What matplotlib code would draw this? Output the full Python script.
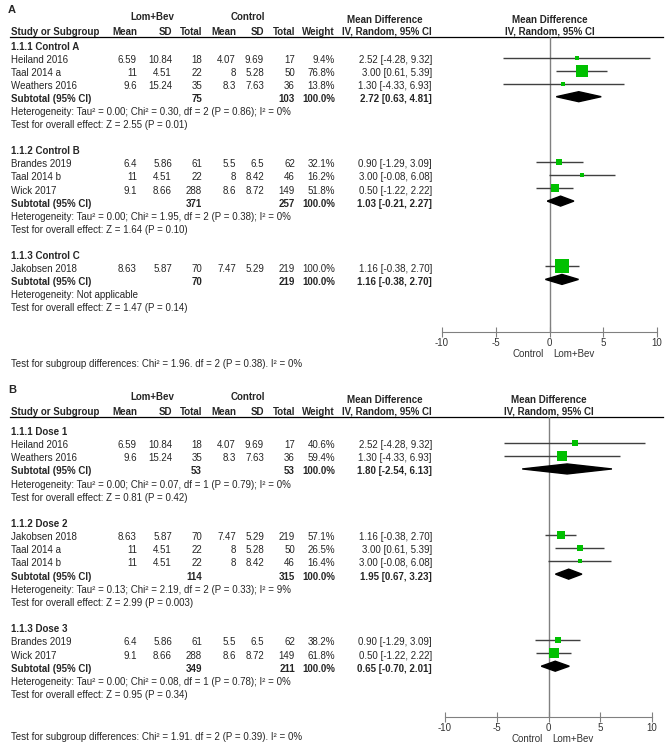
import matplotlib.pyplot as plt
from matplotlib.patches import Polygon

plt.rcParams['font.family'] = ['Liberation Sans', 'DejaVu Sans']

# study level data (same trials used in both panels)
studies = ["Heiland 2016", "Taal 2014 a", "Weathers 2016", "Brandes 2019",
           "Taal 2014 b", "Wick 2017", "Jakobsen 2018"]
lb_mean = ["6.59", "11", "9.6", "6.4", "11", "9.1", "8.63"]
lb_sd = ["10.84", "4.51", "15.24", "5.86", "4.51", "8.66", "5.87"]
lb_n = [18, 22, 35, 61, 22, 288, 70]
ct_mean = ["4.07", "8", "8.3", "5.5", "8", "8.6", "7.47"]
ct_sd = ["9.69", "5.28", "7.63", "6.5", "8.42", "8.72", "5.29"]
ct_n = [17, 50, 36, 62, 46, 149, 219]
md = [2.52, 3.00, 1.30, 0.90, 3.00, 0.50, 1.16]
md_lo = [-4.28, 0.61, -4.33, -1.29, -0.08, -1.22, -0.38]
md_hi = [9.32, 5.39, 6.93, 3.09, 6.08, 2.22, 2.70]

# panel A: grouped by control type
a_groups = ["1.1.1 Control A", "1.1.2 Control B", "1.1.3 Control C"]
a_members = [[0, 1, 2], [3, 4, 5], [6]]
a_weights = [[9.4, 76.8, 13.8], [32.1, 16.2, 51.8], [100.0]]
a_sub_n = [(75, 103), (371, 257), (70, 219)]
a_sub_md = [2.72, 1.03, 1.16]
a_sub_lo = [0.63, -0.21, -0.38]
a_sub_hi = [4.81, 2.27, 2.70]
a_het = ["Heterogeneity: Tau² = 0.00; Chi² = 0.30, df = 2 (P = 0.86); I² = 0%",
         "Heterogeneity: Tau² = 0.00; Chi² = 1.95, df = 2 (P = 0.38); I² = 0%",
         "Heterogeneity: Not applicable"]
a_z = ["Test for overall effect: Z = 2.55 (P = 0.01)",
       "Test for overall effect: Z = 1.64 (P = 0.10)",
       "Test for overall effect: Z = 1.47 (P = 0.14)"]
a_diff = "Test for subgroup differences: Chi² = 1.96. df = 2 (P = 0.38). I² = 0%"

# panel B: grouped by dose
b_groups = ["1.1.1 Dose 1", "1.1.2 Dose 2", "1.1.3 Dose 3"]
b_members = [[0, 2], [6, 1, 4], [3, 5]]
b_weights = [[40.6, 59.4], [57.1, 26.5, 16.4], [38.2, 61.8]]
b_sub_n = [(53, 53), (114, 315), (349, 211)]
b_sub_md = [1.80, 1.95, 0.65]
b_sub_lo = [-2.54, 0.67, -0.70]
b_sub_hi = [6.13, 3.23, 2.01]
b_het = ["Heterogeneity: Tau² = 0.00; Chi² = 0.07, df = 1 (P = 0.79); I² = 0%",
         "Heterogeneity: Tau² = 0.13; Chi² = 2.19, df = 2 (P = 0.33); I² = 9%",
         "Heterogeneity: Tau² = 0.00; Chi² = 0.08, df = 1 (P = 0.78); I² = 0%"]
b_z = ["Test for overall effect: Z = 0.81 (P = 0.42)",
       "Test for overall effect: Z = 2.99 (P = 0.003)",
       "Test for overall effect: Z = 0.95 (P = 0.34)"]
b_diff = "Test for subgroup differences: Chi² = 1.91. df = 2 (P = 0.39). I² = 0%"

xticks = [-10, -5, 0, 5, 10]

W, H = 669, 752
FS = 7.0
TXT = '#262626'
GREEN = '#00c000'
LINE = '#404040'
GREY = '#808080'
col_x = [137, 172, 202, 236, 264, 295, 335]
ci_x = 432

fig = plt.figure(figsize=(W / 100, H / 100), dpi=100)
bg = fig.add_axes([0, 0, 1, 1])
bg.set_xlim(0, W)
bg.set_ylim(H, 0)
bg.axis('off')


def t(x, y, s, ha='left', bold=False, size=FS, color=TXT):
    bg.text(x, y, s, ha=ha, va='center', fontsize=size, color=color,
            fontweight='bold' if bold else 'normal')


def panel(label, top, x_lo, x_hi, axis_y, y0, pitch, groups, members, weights,
          sub_n, sub_md, sub_lo, sub_hi, het, zt, diff, diff_y):
    t(8, top, label, bold=True, size=8)
    t(152, top + 7, "Lom+Bev", ha='center', bold=True)
    t(248, top + 7, "Control", ha='center', bold=True)
    t(385, top + 10, "Mean Difference", ha='center', bold=True)
    t((x_lo + x_hi) / 2, top + 10, "Mean Difference", ha='center', bold=True)
    hy = top + 22
    t(11, hy, "Study or Subgroup", bold=True)
    for x, s in zip(col_x, ["Mean", "SD", "Total", "Mean", "SD", "Total", "Weight"]):
        t(x, hy, s, ha='right', bold=True)
    t(ci_x, hy, "IV, Random, 95% CI", ha='right', bold=True)
    t((x_lo + x_hi) / 2, hy, "IV, Random, 95% CI", ha='center', bold=True)
    line_y = hy + 4.5
    bg.plot([10, 663], [line_y, line_y], color='black', lw=0.9)

    ax = fig.add_axes([x_lo / W, 1 - axis_y / H, (x_hi - x_lo) / W,
                       (axis_y - line_y) / H])
    ax.set_xlim(-10, 10)
    ax.set_ylim(axis_y, line_y)
    ax.patch.set_alpha(0)
    for side in ['top', 'left', 'right']:
        ax.spines[side].set_visible(False)
    ax.spines['bottom'].set_color(GREY)
    ax.set_yticks([])
    ax.set_xticks(xticks)
    ax.set_xticklabels([str(v) for v in xticks])
    ax.tick_params(axis='x', direction='inout', length=7, color=GREY,
                   labelsize=FS, labelcolor='#333333', pad=1)
    ax.axvline(0, color=GREY, lw=1)

    r = 0
    for g in range(len(groups)):
        y = y0 + r * pitch
        t(11, y + 2.5, groups[g], bold=True)
        r += 1
        for k, i in enumerate(members[g]):
            y = y0 + r * pitch
            ty = y + 2.5
            t(11, ty, studies[i])
            vals = [lb_mean[i], lb_sd[i], str(lb_n[i]), ct_mean[i], ct_sd[i],
                    str(ct_n[i]), "%.1f%%" % weights[g][k]]
            for x, s in zip(col_x, vals):
                t(x, ty, s, ha='right')
            t(ci_x, ty, "%.2f [%.2f, %.2f]" % (md[i], md_lo[i], md_hi[i]), ha='right')
            ax.hlines(y, md_lo[i], md_hi[i], color=LINE, lw=1, zorder=2)
            side_px = 2 + 12 * weights[g][k] / 100
            ax.scatter([md[i]], [y], marker='s', s=(side_px * 0.72) ** 2,
                       color=GREEN, linewidths=0, zorder=3)
            r += 1
        y = y0 + r * pitch
        ty = y + 2.5
        t(11, ty, "Subtotal (95% CI)", bold=True)
        t(col_x[2], ty, str(sub_n[g][0]), ha='right', bold=True)
        t(col_x[5], ty, str(sub_n[g][1]), ha='right', bold=True)
        t(col_x[6], ty, "100.0%", ha='right', bold=True)
        t(ci_x, ty, "%.2f [%.2f, %.2f]" % (sub_md[g], sub_lo[g], sub_hi[g]),
          ha='right', bold=True)
        ax.add_patch(Polygon([(sub_lo[g], y), (sub_md[g], y - 5),
                              (sub_hi[g], y), (sub_md[g], y + 5)],
                             closed=True, color='black', zorder=3))
        r += 1
        t(11, y0 + r * pitch + 2.5, het[g])
        r += 1
        t(11, y0 + r * pitch + 2.5, zt[g])
        r += 2

    lab_y = axis_y + 22
    zero_px = x_lo + (x_hi - x_lo) / 2
    t(zero_px - 6, lab_y, "Control", ha='right', color='#333333')
    t(zero_px + 4, lab_y, "Lom+Bev", ha='left', color='#333333')
    t(11, diff_y, diff)


panel("A", 10, 442, 657, 332, 44.5, 13.05, a_groups, a_members, a_weights,
      a_sub_n, a_sub_md, a_sub_lo, a_sub_hi, a_het, a_z, a_diff, 364)
panel("B", 390, 445, 652, 717, 429.5, 13.15, b_groups, b_members, b_weights,
      b_sub_n, b_sub_md, b_sub_lo, b_sub_hi, b_het, b_z, b_diff, 737)

fig.savefig("out.png", dpi=100)
